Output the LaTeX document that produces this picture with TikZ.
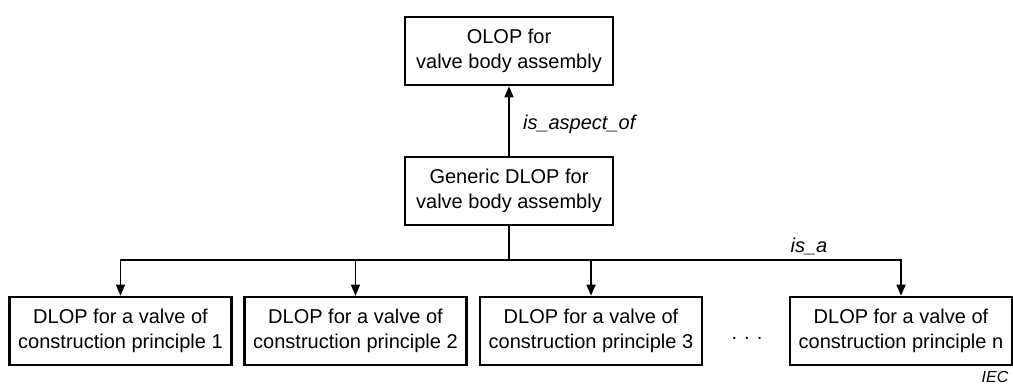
\documentclass[tikz,border=0pt]{standalone}
\usepackage{fontspec}
\setmainfont{Liberation Sans}
\usetikzlibrary{arrows.meta}

\begin{document}
\begin{tikzpicture}[x=0.5pt,y=-0.5pt,
  box/.style={draw,line width=1.3pt,align=center,inner sep=0pt,minimum width=104pt,minimum height=34pt,font=\fontsize{10}{12.5}\selectfont},
  leaf/.style={box,minimum width=111pt},
  link/.style={line width=0.7pt,-{Triangle[length=5.5pt,width=4.5pt]}},
  rel/.style={font=\fontsize{10}{12}\selectfont\itshape}]
\useasboundingbox (0,0) rectangle (1013,385);

\node[box] (olop) at (509,51) {OLOP for\\valve body assembly};
\node[box] (generic) at (509,191) {Generic DLOP for\\valve body assembly};
\draw[link] (generic) -- (olop);
\node[rel,anchor=west] (aspect) at (516,124) {is\_aspect\_of};

\node[leaf] (p1) at (120.5,331) {DLOP for a valve of\\construction principle 1};
\node[leaf] (p2) at (355.5,331) {DLOP for a valve of\\construction principle 2};
\node[leaf] (p3) at (591,331) {DLOP for a valve of\\construction principle 3};
\node[leaf] (pn) at (901,331) {DLOP for a valve of\\construction principle n};
\node[font=\fontsize{10}{12}\selectfont] (dots) at (747,338) {.\hspace{3.5pt}.\hspace{3.5pt}.};

\coordinate (bus) at (509,260);
\draw[line width=0.7pt] (generic) -- (bus);
\foreach \p in {p1,p2,p3,pn}
  \draw[link] (bus) -| (\p);
\node[rel] (isa) at (809,246) {is\_a};

\node[font=\fontsize{8}{9}\selectfont\itshape,anchor=south,inner sep=0pt] (iec) at (995,383) {IEC};
\end{tikzpicture}
\end{document}
